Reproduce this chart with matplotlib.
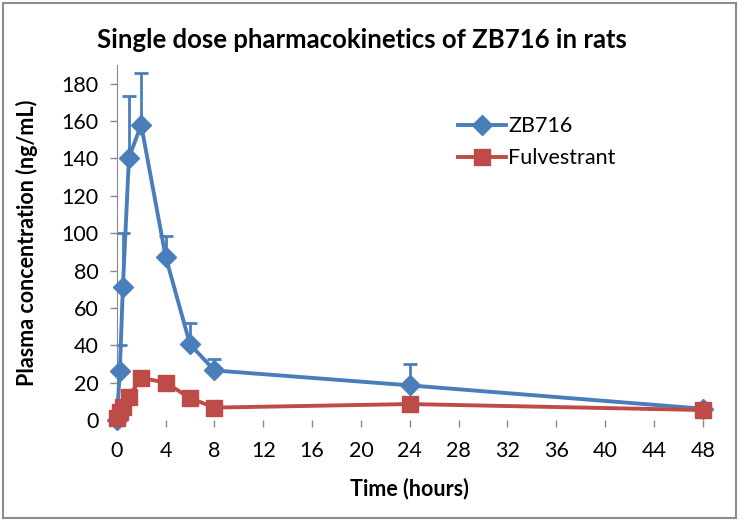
import matplotlib
matplotlib.use("Agg")
import matplotlib.pyplot as plt
from matplotlib.patches import Rectangle

plt.rcParams["font.family"] = ["Lato", "DejaVu Sans"]

# data
time_h = [0, 0.25, 0.5, 1, 2, 4, 6, 8, 24, 48]
zb716 = [0, 26, 71, 140.5, 158, 87.5, 40.5, 26.5, 18.5, 6]
zb716_err = [0, 14, 29, 33, 28, 11, 11.5, 6, 11.5, 2]
fulvestrant = [0.8, 4.5, 7, 12.5, 22.5, 20, 11.7, 6.6, 8.5, 5.3]

x_ticks = list(range(0, 49, 4))
y_ticks = list(range(0, 181, 20))

BLUE = "#4A7EBB"
RED = "#BE4B48"

fig = plt.figure(figsize=(7.39, 5.21), dpi=100)
fig.patches.append(Rectangle((0.004, 0.006), 0.992, 0.988, transform=fig.transFigure,
                             fill=False, edgecolor="#8c8c8c", linewidth=1.5))

ax = fig.add_axes([0.158, 0.194, 0.793, 0.681])

ax.errorbar(time_h, zb716, yerr=[[0] * len(zb716_err), zb716_err], fmt="none",
            ecolor=BLUE, elinewidth=2, capsize=5, capthick=2, zorder=2)
ax.plot(time_h, zb716, color=BLUE, linewidth=2.8, marker="D", markersize=10,
        label="ZB716", zorder=3, clip_on=False)
ax.plot(time_h, fulvestrant, color=RED, linewidth=2.8, marker="s", markersize=11,
        label="Fulvestrant", zorder=4, clip_on=False)

ax.set_xlim(0, 48)
ax.set_ylim(0, 190)
ax.set_xticks(x_ticks)
ax.set_yticks(y_ticks)
ax.tick_params(axis="both", labelsize=15.5, colors="#888888", labelcolor="black",
               length=5, width=1)
ax.tick_params(axis="x", pad=10)
ax.tick_params(axis="y", pad=8)

for side in ["top", "right", "bottom"]:
    ax.spines[side].set_visible(False)
ax.spines["left"].set_color("#888888")

ax.set_title("Single dose pharmacokinetics of ZB716 in rats", fontsize=18.5,
             fontweight="bold", pad=12, x=0.418)
ax.set_xlabel("Time (hours)", fontsize=15.5, fontweight="bold", labelpad=12)
ax.set_ylabel("Plasma concentration (ng/mL)", fontsize=15.5, fontweight="bold", labelpad=17)

ax.legend(loc="upper left", bbox_to_anchor=(0.55, 0.91),
          frameon=False, fontsize=15.5, handlelength=2.2, handletextpad=0.1,
          labelspacing=0.55)

fig.savefig("out.png", dpi=100)
